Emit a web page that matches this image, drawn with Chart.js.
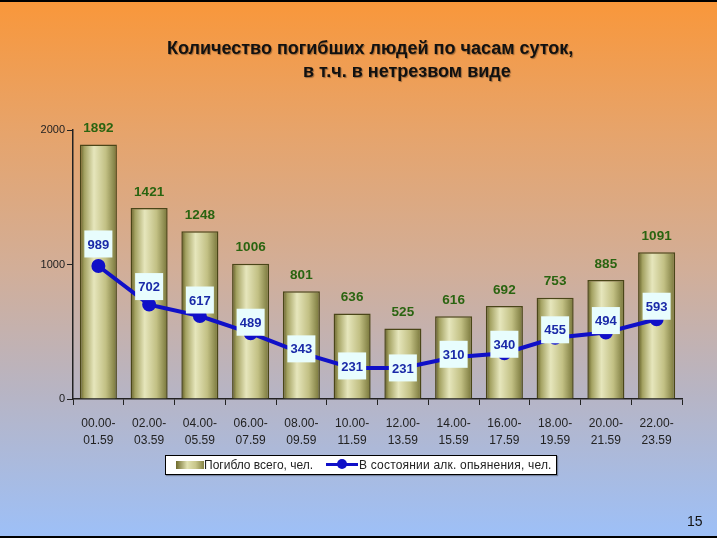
<!DOCTYPE html>
<html>
<head>
<meta charset="utf-8">
<script src="https://cdn.jsdelivr.net/npm/chart.js@4/dist/chart.umd.min.js"></script>
<style>
  html, body { margin: 0; padding: 0; }
  body {
    width: 717px; height: 538px; overflow: hidden; position: relative;
    background: linear-gradient(#f9973a 0%, #e6a46c 25%, #d2ae98 50%, #b8b4c2 72%, #9dc0f8 100%);
    font-family: "Liberation Sans", Arial, sans-serif;
    border-top: 2px solid #000; border-bottom: 2px solid #000; box-sizing: border-box;
  }
  #wrap { position: absolute; left: 0; top: -2px; width: 717px; height: 538px; }
  .title { position: absolute; font-weight: bold; font-size: 18px; color: #111; text-shadow: 1px 1px 1px rgba(0,0,0,0.35); white-space: nowrap; }
  #legend {
    position: absolute; left: 165px; top: 455px; width: 390px; height: 18px;
    background: #fff; border: 1px solid #000; box-shadow: 1px 1px 1px rgba(0,0,0,0.3);
    font-size: 12px; color: #222;
  }
  #legend span { position: absolute; top: 2px; white-space: nowrap; }
  .sw-bar { position: absolute; left: 10px; top: 5px; width: 28px; height: 8px;
    background: linear-gradient(90deg, #6e6a2a, #e2e2b2 40%, #c8c68a 70%, #858344); }
  .sw-line { position: absolute; left: 160px; top: 7px; width: 32px; height: 3px; background: #1010c8; }
  .sw-dot { position: absolute; left: 171px; top: 3px; width: 10px; height: 10px; border-radius: 50%; background: #1010c8; }
  #page { position: absolute; left: 687px; top: 513px; font-size: 14px; color: #111; }
</style>
</head>
<body>
<div id="wrap">
  <canvas id="chart" width="717" height="538"></canvas>
  <div class="title" style="left:167px; top:38px;">Количество погибших людей по часам суток,</div>
  <div class="title" style="left:303px; top:61px;">в т.ч. в нетрезвом виде</div>
  <div id="legend">
    <div class="sw-bar"></div><span style="left:38px;">Погибло всего, чел.</span>
    <div class="sw-line"></div><div class="sw-dot"></div><span style="left:193px; letter-spacing:0.2px;">В состоянии алк. опьянения, чел.</span>
  </div>
  <div id="page">15</div>
</div>
<script>
'use strict';
//** Data */

let hourlabels = [
  ['00.00-', '01.59'], ['02.00-', '03.59'], ['04.00-', '05.59'], ['06.00-', '07.59'],
  ['08.00-', '09.59'], ['10.00-', '11.59'], ['12.00-', '13.59'], ['14.00-', '15.59'],
  ['16.00-', '17.59'], ['18.00-', '19.59'], ['20.00-', '21.59'], ['22.00-', '23.59']
];
let totaldead = [1892, 1421, 1248, 1006, 801, 636, 525, 616, 692, 753, 885, 1091];
let drunkdead = [989, 702, 617, 489, 343, 231, 231, 310, 340, 455, 494, 593];
let yticks = [0, 1000, 2000];

//** Styles */
let barpct = 0.73;
// label boxes were nudged by hand in the original, px above the point
let labelnudge = [22, 18, 16, 11, 4, 2, 0, 3, 9, 8, 12, 13];

let ctx = document.getElementById('chart');

//** Bar fill: cylinder look */
function barfill(context){
  let chart = context.chart;
  let xscale = chart.scales.x;
  if (!chart.chartArea || !xscale || context.dataIndex === undefined) { return '#c8c68a'; }
  let cx = xscale.getPixelForValue(context.dataIndex);
  let w = (chart.chartArea.width / hourlabels.length) * barpct;
  let g = chart.ctx.createLinearGradient(cx - w / 2, 0, cx + w / 2, 0);
  g.addColorStop(0, '#5e5a22');
  g.addColorStop(0.12, '#a4a262');
  g.addColorStop(0.38, '#e6e6bc');
  g.addColorStop(0.7, '#c2c084');
  g.addColorStop(1, '#767438');
  return g;
}

//** Value labels */
let valuelabels = {
  id: 'valuelabels',
  afterDatasetsDraw(chart){
    let c = chart.ctx;
    c.save();
    c.textAlign = 'center';
    c.textBaseline = 'middle';
    c.font = 'bold 13.5px "Liberation Sans", Arial, sans-serif';
    c.fillStyle = '#2a6410';
    chart.getDatasetMeta(0).data.forEach((bar, i) => {
      c.fillText(totaldead[i], bar.x, bar.y - 16);
    });
    c.font = 'bold 13px "Liberation Sans", Arial, sans-serif';
    chart.getDatasetMeta(1).data.forEach((pt, i) => {
      let cy = pt.y - labelnudge[i];
      c.fillStyle = '#e8fdfd';
      c.fillRect(pt.x - 14, cy - 13.5, 28, 27);
      c.fillStyle = '#1a2aa8';
      c.fillText(drunkdead[i], pt.x, cy + 1);
    });
    c.restore();
  }
};

let chartObj = {
  type: 'bar',
  data: {
    labels: hourlabels,
    datasets: [{
      type: 'bar',
      label: 'Погибло всего, чел.',
      data: totaldead,
      backgroundColor: barfill,
      borderColor: '#4a4618',
      borderWidth: 1.5,
      categoryPercentage: 1,
      barPercentage: barpct,
      order: 2
    },
    {
      type: 'line',
      label: 'В состоянии алк. опьянения, чел.',
      data: drunkdead,
      borderColor: '#1010c8',
      backgroundColor: '#1010c8',
      borderWidth: 4,
      pointRadius: 5,
      pointHoverRadius: 5,
      tension: 0,
      order: 1
    }]
  },
  options: {
    responsive: false,
    animation: false,
    events: [],
    layout: { padding: { left: 0, right: 35, top: 130, bottom: 0 } },
    plugins: {
      legend: { display: false },
      tooltip: { enabled: false }
    },
    scales: {
      x: {
        offset: true,
        grid: { offset: true, drawOnChartArea: false, color: '#222', tickLength: 6, tickWidth: 1 },
        border: { color: '#222', width: 1.5 },
        ticks: { color: '#222', font: { size: 12, lineHeight: 1.35, family: '"Liberation Sans", Arial, sans-serif' }, padding: 11, maxRotation: 0, autoSkip: false },
        afterFit(scale){ scale.height = 139; }
      },
      y: {
        min: 0,
        max: 2000,
        afterBuildTicks(scale){ scale.ticks = yticks.map(v => ({ value: v })); },
        grid: { drawOnChartArea: false, color: '#222', tickLength: 6 },
        border: { color: '#222', width: 1.5 },
        ticks: {
          color: '#222',
          font: { size: 11, family: '"Liberation Sans", Arial, sans-serif' },
          padding: 2,
          callback: v => String(v)
        },
        afterFit(scale){ scale.width = 73; }
      }
    }
  },
  plugins: [valuelabels]
};

new Chart(ctx, chartObj);
</script>
</body>
</html>
